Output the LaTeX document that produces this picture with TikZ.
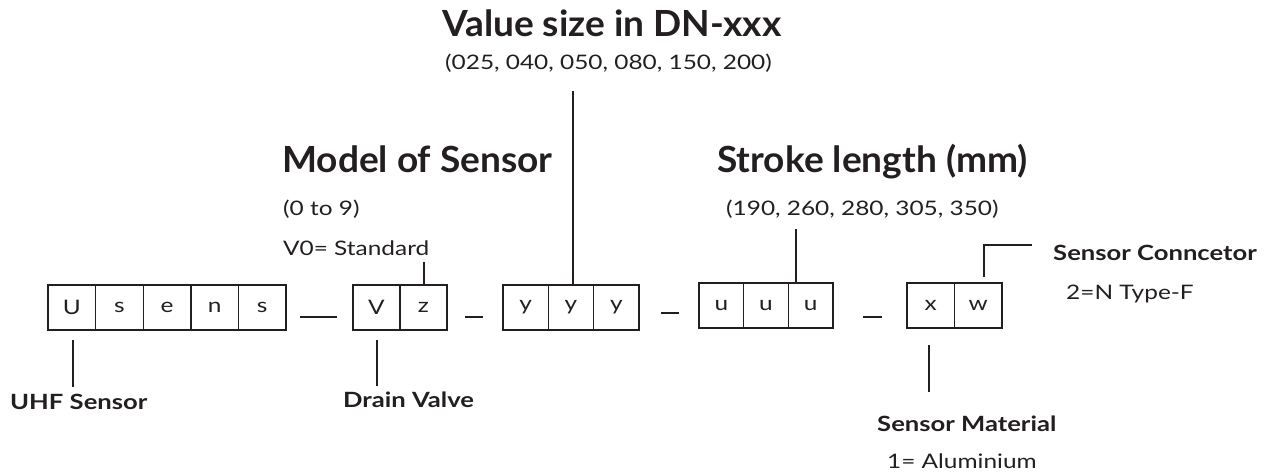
\documentclass[tikz,border=0pt]{standalone}
\usepackage{fontspec}
\setmainfont{Lato}[FakeStretch=1.22]
\newfontfamily\titlefont{Lato}[FakeStretch=1.03]
\definecolor{ink}{HTML}{231F20}
\begin{document}
\begin{tikzpicture}[x=1pt,y=-1pt,
  cell/.style={draw=ink, line width=1.4pt, minimum height=45pt, inner sep=0pt, text=ink, font=\fontsize{20}{24}\selectfont},
  lead/.style={draw=ink, line width=2pt},
  bigtitle/.style={anchor=base west, inner sep=0pt, text=ink, font=\titlefont\fontsize{36}{40}\selectfont\bfseries},
  smalltitle/.style={anchor=base west, inner sep=0pt, text=ink, font=\fontsize{21}{25}\selectfont\bfseries},
  note/.style={anchor=base west, inner sep=0pt, text=ink, font=\fontsize{20}{24}\selectfont}]
\useasboundingbox (0,0) rectangle (1269,473);

% cells
\begin{scope}[every node/.append style={cell, minimum width=47.6pt}]
\node (u1) at (71.8,307.5) {U};
\node (u2) at (119.4,307.5) {s};
\node (u3) at (167.0,307.5) {e};
\node (u4) at (214.6,307.5) {n};
\node (u5) at (262.2,307.5) {s};
\end{scope}
\begin{scope}[every node/.append style={cell, minimum width=47pt}]
\node (v1) at (376.5,307.5) {V};
\node (v2) at (423.5,307.5) {z};
\end{scope}
\begin{scope}[every node/.append style={cell, minimum width=45.3pt}]
\node (y1) at (525.7,307.5) {y};
\node (y2) at (571.0,307.5) {y};
\node (y3) at (616.3,307.5) {y};
\end{scope}
\begin{scope}[every node/.append style={cell, minimum width=44.7pt}]
\node (s1) at (721.3,305.5) {u};
\node (s2) at (766.0,305.5) {u};
\node (s3) at (810.7,305.5) {u};
\end{scope}
\begin{scope}[every node/.append style={cell, minimum width=47.5pt}]
\node (x1) at (930.75,305.5) {x};
\node (x2) at (978.25,305.5) {w};
\end{scope}

% dashes
\draw[lead] (300,317) -- (337,317);
\draw[lead] (465,317) -- (483,317);
\draw[lead] (661,313) -- (679,313);
\draw[lead] (863,317) -- (882,317);

% labels
\node[bigtitle] (tval) at (442,37) {Value size in DN-xxx};
\node[note] (nval) at (445,70) {(025, 040, 050, 080, 150, 200)};
\node[bigtitle] (tmod) at (282,173) {Model of Sensor};
\node[note] (nmod) at (283,215) {(0 to 9)};
\node[note] (nstd) at (283,255) {V0= Standard};
\node[bigtitle] (tstr) at (717,173) {Stroke length (mm)};
\node[note] (nstr) at (726,215) {(190, 260, 280, 305, 350)};
\node[smalltitle] (tcon) at (1053,261) {Sensor Conncetor};
\node[note] (ncon) at (1066,299) {2=N Type-F};
\node[smalltitle] (tuhf) at (10,409) {UHF Sensor};
\node[smalltitle] (tdrn) at (343,407) {Drain Valve};
\node[smalltitle] (tmat) at (877,431) {Sensor Material};
\node[note] (nmat) at (887,468) {1= Aluminium};

% leaders
\coordinate (a1) at (73,340);  \coordinate (a2) at (73,387);
\draw[lead] (a1) -- (a2);
\coordinate (b1) at (377,340); \coordinate (b2) at (377,386);
\draw[lead] (b1) -- (b2);
\draw[lead] (v2.north -| 424,0) -- (424,262);
\draw[lead] (y2.north -| 573,0) -- (573,91);
\draw[lead] (s3.north -| 796,0) -- (796,229);
\coordinate (w1) at (984,277);
\draw[lead] (w1) -- (984,245) -- (1032,245);
\coordinate (m1) at (929,345); \coordinate (m2) at (929,392);
\draw[lead] (m1) -- (m2);
\end{tikzpicture}
\end{document}
